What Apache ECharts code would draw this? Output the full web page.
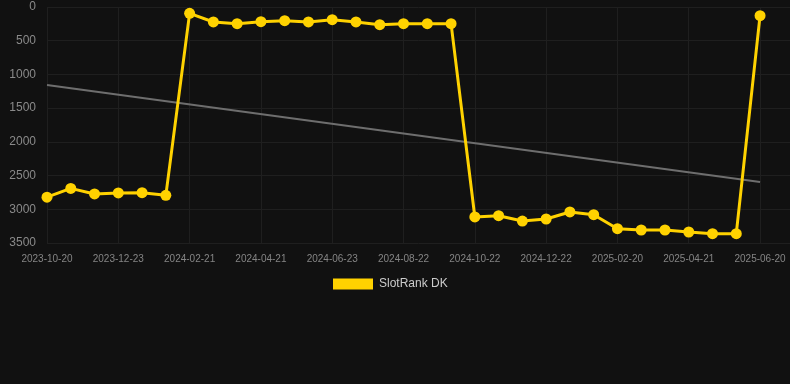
<!DOCTYPE html>
<html>
<head>
<meta charset="utf-8">
<script src="https://cdn.jsdelivr.net/npm/echarts@6/dist/echarts.min.js"></script>
<style>
html,body{margin:0;padding:0;background:#111111;}
#chart{width:790px;height:384px;}
</style>
</head>
<body>
<div id="chart"></div>
<script>
const dates = [
  '2023-10-20','2023-11-10','2023-12-02','2023-12-23','2024-01-13','2024-02-01',
  '2024-02-21','2024-03-12','2024-04-01','2024-04-21','2024-05-12','2024-06-02',
  '2024-06-23','2024-07-13','2024-08-02','2024-08-22','2024-09-11','2024-10-01',
  '2024-10-22','2024-11-11','2024-12-01','2024-12-22','2025-01-11','2025-01-31',
  '2025-02-20','2025-03-12','2025-04-01','2025-04-21','2025-05-11','2025-05-31',
  '2025-06-20'
];
const slotRank = [
  2820, 2690, 2773, 2758, 2754, 2793,
  94, 222, 247, 218, 203, 222, 188, 222, 262, 247, 247, 247,
  3114, 3095, 3174, 3144, 3040, 3080, 3288, 3307, 3307, 3337, 3362, 3362,
  129
];
const trendStart = 1157;
const trendEnd = 2595;
const yTicks = [0, 500, 1000, 1500, 2000, 2500, 3000, 3500];

const chart = echarts.init(document.getElementById('chart'));
chart.setOption({
  backgroundColor: '#111111',
  animation: false,
  grid: { left: 47, right: 0, top: 7, bottom: 141 },
  legend: {
    data: ['SlotRank DK'],
    top: 278,
    left: 333,
    padding: 0,
    itemWidth: 40,
    itemHeight: 11,
    itemGap: 10,
    textStyle: { color: '#cccccc', fontSize: 12, fontFamily: 'Arial, Liberation Sans, sans-serif', padding: [0, 0, 0, 1] },
    icon: 'rect'
  },
  xAxis: {
    type: 'value',
    min: 0,
    max: 31.26,
    interval: 3,
    axisLine: { show: false },
    axisTick: { show: false },
    splitLine: { show: true, lineStyle: { color: '#1f1f1f', width: 1 } },
    axisLabel: {
      color: '#858585',
      fontSize: 10,
      margin: 11,
      fontFamily: 'Arial, Liberation Sans, sans-serif',
      formatter: v => dates[Math.round(v)] || '',
      showMaxLabel: false
    }
  },
  yAxis: {
    type: 'value',
    inverse: true,
    min: yTicks[0],
    max: yTicks[yTicks.length - 1],
    interval: 500,
    axisLine: { show: false },
    axisTick: { show: false },
    splitLine: { show: true, lineStyle: { color: '#1f1f1f', width: 1 } },
    axisLabel: {
      color: '#8a8a8a',
      fontSize: 12,
      margin: 11,
      fontFamily: 'Arial, Liberation Sans, sans-serif',
      formatter: v => String(v)
    }
  },
  series: [
    {
      name: 'trend',
      type: 'line',
      data: [[0, trendStart], [dates.length - 1, trendEnd]],
      symbol: 'none',
      lineStyle: { color: '#6e6e6e', width: 2 },
      itemStyle: { color: '#6e6e6e' },
      silent: true,
      z: 1
    },
    {
      name: 'SlotRank DK',
      type: 'line',
      data: slotRank.map((v, i) => [i, v]),
      symbol: 'circle',
      symbolSize: 11,
      lineStyle: { color: '#ffd200', width: 3 },
      itemStyle: { color: '#ffd200' },
      z: 3
    }
  ]
});
</script>
</body>
</html>
